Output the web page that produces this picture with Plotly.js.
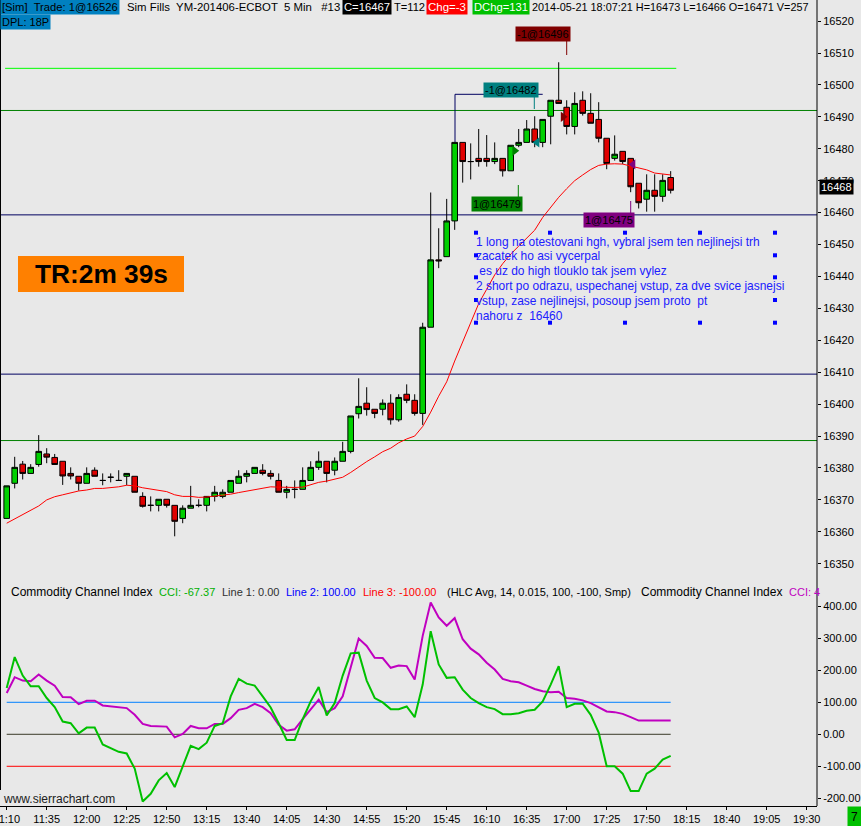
<!DOCTYPE html>
<html>
<head>
<meta charset="utf-8">
<script src="https://cdn.plot.ly/plotly-3.0.1.min.js"></script>
<style>
html,body{margin:0;padding:0;background:#e8e8e8;}
#chart{width:861px;height:826px;}
</style>
</head>
<body>
<div id="chart"></div>
<script>
// ---------- DATA ----------
const opens = [16364.2,16375.2,16381.2,16378.3,16381.1,16384.4,16383.3,16382.1,16378.3,16377.4,
16375.2,16379.3,16376.1,16377.1,16376.1,16377.4,16377.4,16371.1,16368.3,16368.3,
16370.2,16368.3,16364.2,16367.4,16368.3,16368.3,16371.1,16371.1,16372.4,16375.2,
16377.4,16378.3,16379.3,16378.3,16376.1,16372.4,16373.3,16373.3,16376.1,16380.2,
16382.1,16379.3,16382.1,16385.2,16397.0,16400.3,16398.4,16398.4,16400.3,16395.1,
16403.1,16401.2,16397.1,16424.1,16445.2,16446.2,16457.4,16482.0,16476.0,16477.0,
16477.0,16476.0,16477.0,16473.1,16481.1,16482.0,16486.2,16482.0,16490.2,16495.2,
16493.0,16487.0,16495.2,16491.1,16489.2,16483.3,16477.0,16479.2,16477.0,16469.2,
16464.2,16467.0,16465.1,16471.0];
const highs = [16374.4,16383.5,16382.2,16381.2,16390.3,16386.2,16384.4,16382.1,16380.2,16377.4,
16380.2,16380.2,16378.3,16378.3,16379.3,16378.3,16377.4,16372.4,16371.1,16370.2,
16370.2,16368.3,16368.3,16374.4,16370.2,16371.1,16374.4,16373.3,16376.1,16379.3,
16379.3,16380.2,16381.2,16379.3,16378.3,16374.4,16376.1,16380.2,16382.1,16385.2,
16382.1,16383.3,16388.2,16396.3,16408.1,16405.3,16398.4,16401.5,16403.1,16403.1,
16406.2,16403.1,16425.5,16466.3,16455.1,16464.3,16482.0,16482.0,16481.7,16486.2,
16484.3,16482.0,16477.0,16481.1,16486.2,16489.0,16490.2,16489.2,16495.2,16507.1,
16495.2,16497.7,16498.0,16497.4,16494.6,16483.3,16484.2,16479.2,16477.0,16469.2,
16472.0,16472.0,16472.0,16473.0];
const lows = [16364.2,16373.6,16376.4,16378.3,16380.4,16381.5,16381.1,16374.7,16376.4,16372.9,
16375.2,16377.4,16374.6,16375.5,16376.1,16374.6,16372.4,16367.6,16366.4,16366.4,
16367.6,16358.6,16362.7,16367.4,16367.7,16366.4,16369.5,16370.5,16372.4,16375.2,
16375.5,16378.3,16377.7,16376.4,16372.4,16370.5,16370.5,16373.3,16376.1,16379.4,
16375.5,16377.7,16382.1,16384.6,16395.5,16396.4,16395.6,16396.5,16393.6,16394.5,
16400.3,16396.4,16393.5,16424.1,16442.6,16446.2,16454.6,16469.4,16470.4,16474.4,
16474.4,16475.2,16471.3,16473.1,16480.5,16482.0,16480.5,16480.5,16481.4,16494.2,
16484.5,16484.5,16490.4,16488.0,16482.0,16473.6,16476.3,16475.2,16466.4,16461.3,
16460.3,16460.3,16463.4,16466.0];
const closes = [16374.4,16380.2,16378.3,16380.2,16385.2,16383.4,16381.1,16377.5,16377.5,16375.2,
16378.3,16377.4,16376.1,16377.1,16376.1,16378.3,16372.4,16368.0,16368.3,16370.2,
16368.3,16363.3,16367.4,16368.3,16368.3,16371.1,16372.4,16372.4,16376.1,16377.4,
16378.3,16380.2,16378.3,16377.4,16372.4,16373.3,16373.3,16376.1,16380.2,16382.1,
16378.3,16382.1,16385.2,16396.3,16399.3,16398.3,16397.1,16400.3,16395.1,16402.1,
16401.2,16397.1,16424.1,16445.2,16444.9,16457.4,16482.0,16476.0,16476.0,16476.0,
16476.0,16477.0,16473.1,16481.1,16482.0,16486.2,16482.0,16489.2,16495.2,16494.2,
16487.0,16494.2,16491.1,16488.0,16483.3,16475.4,16478.3,16476.0,16468.1,16463.1,
16467.0,16465.1,16470.1,16467.0];
const movingAvg = [16362.7,16364.0,16365.3,16366.6,16368.1,16370.0,16371.0,16371.6,16372.3,16372.8,
16373.1,16373.6,16373.6,16373.8,16374.1,16374.6,16374.4,16373.8,16373.4,16373.0,
16372.6,16371.6,16371.1,16371.1,16370.8,16370.9,16371.2,16371.4,16371.8,16372.3,
16372.7,16373.2,16373.7,16374.1,16374.0,16373.9,16373.9,16374.0,16374.8,16375.5,
16375.9,16376.4,16377.1,16378.6,16380.4,16382.0,16383.5,16385.1,16386.2,16387.9,
16389.1,16390.0,16393.0,16397.5,16402.5,16407.0,16413.5,16419.5,16426.0,16431.5,
16436.0,16440.5,16444.0,16447.0,16449.5,16452.0,16454.5,16458.5,16461.8,16464.8,
16467.5,16470.0,16471.8,16473.5,16474.8,16475.2,16475.3,16475.2,16474.6,16474.0,
16473.4,16472.4,16472.0,16471.8];
const cciFast = [144.8,241.4,183.6,150,150,113.3,84.9,39.8,34.5,3,
20.9,20.9,-31.7,-44.3,-54.8,-60,-107.3,-210.2,-186,-144,
-120.9,-165,-102,-35.9,-46.4,-26.4,26.1,34.5,118.5,173.1,
158.4,152.1,118.5,83.9,34.5,-18,-18,47.1,102.8,147.9,
58.7,97.5,183.6,252.9,255,167.9,113.3,99.6,78.6,78.6,
87,53.4,155.3,322,218.3,176.3,178.4,139.5,113.3,97.5,
84.9,78.6,62.9,62.9,66,73.4,76.5,102.8,155.3,213,
84.9,95.4,95.4,60.8,5.1,-99.9,-99.9,-123,-177.6,-177.6,
-123,-107.3,-78.9,-67.37];
const cciSlow = [129,178.4,167.9,165.8,186.8,167.9,152.1,116.4,115.4,94.4,
104.9,104.9,90.2,87,84.9,81.8,60.8,32.4,26.1,26.1,
24,-9.6,0.9,26.1,18.8,18.8,32.4,32.4,50.3,76.5,
81.8,95.4,84.9,66,29.3,11.4,15.6,47.1,76.5,108,
69.2,81.8,118.5,213,299.1,276,239.3,238.2,207.8,215.1,
213,171,307.5,412,365.3,339,363.2,297,267.6,249.8,
223.5,202.5,173.1,165.8,162.6,152.1,141.6,134.3,131.1,133.2,
113.3,111.2,105.9,97.5,84.9,71.3,69.2,63.9,53.4,42.9,
42.9,42.9,42.9,42.9];

const timeTickBars = [0,5,10,15,20,25,30,35,40,45,50,55,60,65,70,75,80,85,90,95,100];
const timeTickLabels = ["11:10","11:35","12:00","12:25","12:50","13:15","13:40","14:05","14:30","14:55",
"15:20","15:45","16:10","16:35","17:00","17:25","17:50","18:15","18:40","19:05","19:30"];
const priceTicks = [16350,16360,16370,16380,16390,16400,16410,16420,16430,16440,
16450,16460,16470,16480,16490,16500,16510,16520];
const cciTicks = [-200,-100,0,100,200,300,400];
const cciTickText = ["-200.00","-100.00","0.00","100.00","200.00","300.00","400.00"];
const cciLevels = [100, 0, -100];
const cciLevelColors = ["#0080ff", "#3a3a28", "#ff0000"];
const priceLevels = [16505.2, 16492.0, 16459.3, 16409.4, 16388.6];
const priceLevelColors = ["#00ff00", "#008000", "#000060", "#000060", "#008000"];
const lastPrice = 16468;

const tradeX = [63.5, 66.3, 69.55, 78.3];
const tradeY = [16479.4, 16482.0, 16490.0, 16475.1];
const tradeSymbols = ["triangle-right","triangle-left","triangle-right","triangle-left"];
const tradeColors = ["#008000","#008080","#800000","#800080"];

const noteLines = ["1 long na otestovani hgh, vybral jsem ten nejlinejsi trh",
"zacatek ho asi vycerpal",
" es uz do high tlouklo tak jsem vylez",
"2 short po odrazu, uspechanej vstup, za dve svice jasnejsi",
"vstup, zase nejlinejsi, posoup jsem proto  pt",
"nahoru z  16460"];

// ---------- LAYOUT HELPERS (pixel -> paper, decorations only) ----------
const PW = 817, PH = 806;
const px = x => x / PW;
const py = y => 1 - y / PH;
const FONT = "Liberation Sans, Arial, sans-serif";
const bars = closes.map((_, i) => i);

// fit a font size so a text spans a given pixel width
const cv = document.createElement("canvas").getContext("2d");
function fitSize(text, target, base, bold) {
  cv.font = (bold ? "bold " : "") + base + "px 'Liberation Sans', Arial, sans-serif";
  const w = cv.measureText(text).width;
  if (!w) return base;
  const s = base * target / w;
  return Math.max(base * 0.8, Math.min(base * 1.2, s));
}

const traces = [
  {type:"candlestick", x:bars, open:opens, high:highs, low:lows, close:closes,
   xaxis:"x", yaxis:"y", whiskerwidth:0,
   increasing:{line:{color:"#000000", width:1}, fillcolor:"#00d000"},
   decreasing:{line:{color:"#000000", width:1}, fillcolor:"#e00000"},
   showlegend:false, hoverinfo:"skip"},
  {type:"scatter", mode:"lines", x:bars, y:movingAvg, xaxis:"x", yaxis:"y",
   line:{color:"#ff0000", width:1}, showlegend:false, hoverinfo:"skip"},
  {type:"scatter", mode:"markers", x:tradeX, y:tradeY, xaxis:"x", yaxis:"y",
   marker:{symbol:tradeSymbols, color:tradeColors, size:9}, showlegend:false, hoverinfo:"skip"},
  {type:"scatter", mode:"lines", x:bars, y:cciSlow, xaxis:"x", yaxis:"y2",
   line:{color:"#c000c0", width:2}, showlegend:false, hoverinfo:"skip"},
  {type:"scatter", mode:"lines", x:bars, y:cciFast, xaxis:"x", yaxis:"y2",
   line:{color:"#00c000", width:2}, showlegend:false, hoverinfo:"skip"}
];

const shapes = [];
priceLevels.forEach((lv, k) => {
  const limited = k === 0;
  shapes.push({type:"line", xref: limited ? "x" : "paper", yref:"y",
    x0: limited ? -0.2 : 0, x1: limited ? 83.7 : 1, y0:lv, y1:lv,
    line:{color:priceLevelColors[k], width:1}, layer:"below"});
});
cciLevels.forEach((lv, k) => {
  shapes.push({type:"line", xref:"x", yref:"y2", x0:bars[0], x1:bars[bars.length-1], y0:lv, y1:lv,
    line:{color:cciLevelColors[k], width:1}, layer:"below"});
});
shapes.push({type:"line", xref:"paper", yref:"paper", x0:px(0.5), x1:px(0.5), y0:py(0), y1:py(790), line:{color:"#000", width:1}});
shapes.push({type:"line", xref:"paper", yref:"paper", x0:1, x1:1, y0:py(0), y1:py(806), line:{color:"#000", width:1}});
function seg(x0,y0,x1,y1,c){shapes.push({type:"line", xref:"paper", yref:"paper", x0:px(x0), x1:px(x1), y0:py(y0), y1:py(y1), line:{color:c, width:1}});}
seg(566.7,40,566.7,55,"#800000");
seg(455,94.3,542.7,94.3,"#000060");
seg(455,94.3,455,142,"#000060");
seg(534.3,96,534.3,109,"#008080");
seg(518.3,185,518.3,198,"#008000");
seg(630.7,201,630.7,213,"#800080");
shapes.push({type:"rect", xref:"paper", yref:"paper", x0:px(18), x1:px(184), y0:py(256), y1:py(292), fillcolor:"#ff8000", line:{width:0}});
const handleCols = [476,550,625,700,775];
const handleRows = [232.7,255.3,277.3,300,322.7];
handleRows.forEach((ry, r) => {
  handleCols.forEach((cx, c) => {
    if ((r === 0 || r === handleRows.length-1) || c === 0 || c === handleCols.length-1) {
      shapes.push({type:"rect", xref:"paper", yref:"paper", x0:px(cx-2), x1:px(cx+2), y0:py(ry-2), y1:py(ry+2), fillcolor:"#0000ff", line:{width:0}});
    }
  });
});

const annotations = [];
function ann(text, x, y, opts) {
  annotations.push(Object.assign({text:text, xref:"paper", yref:"paper", x:px(x), y:py(y),
    xanchor:"left", yanchor:"middle", showarrow:false, borderpad:1,
    font:{family:FONT, size:11, color:"#000"}}, opts || {}));
}
// header: [text, left x, target width, background, text colour]
const header = [
  ["[Sim]  Trade: 1@16526", 0, 116, "#0080c0", "#000"],
  ["Sim Fills  YM-201406-ECBOT  5 Min   #13", 125, 214, null, "#000"],
  ["C=16467", 342, 46, "#000000", "#fff"],
  ["T=112", 392, 31, null, "#000"],
  ["Chg=-3", 426, 38, "#ff0000", "#fff"],
  ["DChg=131", 472, 54, "#00c000", "#fff"],
  ["2014-05-21 18:07:21 H=16473 L=16466 O=16471 V=257", 530, 277, null, "#000"]
];
header.forEach(h => {
  const o = {font:{family:FONT, size:fitSize(h[0], h[2], 11), color:h[4]}};
  if (h[3]) o.bgcolor = h[3];
  ann(h[0], h[1], 7, o);
});
ann("DPL: 18P", 0, 22, {bgcolor:"#0080c0"});
ann("-1@16496", 515, 34.5, {bgcolor:"#800000"});
ann("-1@16482", 483, 89.5, {bgcolor:"#008080"});
ann("1@16479", 471, 203.5, {bgcolor:"#008000"});
ann("1@16475", 583, 219.5, {bgcolor:"#800080"});
ann("TR:2m 39s", 101, 274, {xanchor:"center", font:{family:FONT, size:fitSize("TR:2m 39s", 133, 26, true), color:"#000", weight:"bold"}});
const noteSize = fitSize(noteLines[0], 284, 12);
noteLines.forEach((ln, k) => ann(ln, 475, 241.5 + 14.9 * k, {borderpad:0, font:{family:FONT, size:noteSize, color:"#2020ff"}}));
const cciTitle = [["Commodity Channel Index",9,"#000",12],["CCI: -67.37",157,"#00b000",11],["Line 1: 0.00",220,"#303030",11],
  ["Line 2: 100.00",284,"#0000ff",11],["Line 3: -100.00",361,"#ff0000",11],["(HLC Avg, 14, 0.015, 100, -100, Smp)",445,"#000",11],
  ["Commodity Channel Index",639,"#000",12],["CCI: 4",787,"#c000c0",11]];
cciTitle.forEach(s => ann(s[0], s[1], 592, {font:{family:FONT, size:s[3], color:s[2]}}));
ann("www.sierrachart.com", 1, 799, {font:{family:FONT, size:12, color:"#202020"}});
annotations.push({text:String(lastPrice), xref:"paper", yref:"y", x:px(819), y:lastPrice,
  xanchor:"left", yanchor:"middle", showarrow:false, bgcolor:"#000", borderpad:1,
  font:{family:FONT, size:11, color:"#fff"}});
ann("7", 854, 817, {xanchor:"center", bgcolor:"#00c000", borderpad:3, font:{family:FONT, size:12, color:"#000"}});

const axFont = {family:FONT, size:11, color:"#000"};
const layout = {
  width:861, height:826,
  margin:{l:0, r:44, t:0, b:20, pad:0},
  paper_bgcolor:"#e8e8e8", plot_bgcolor:"#e8e8e8",
  showlegend:false, hovermode:false,
  boxgap:0.3, boxgroupgap:0,
  xaxis:{range:[-0.8375, 101.29], anchor:"y2", tickmode:"array", tickvals:timeTickBars, ticktext:timeTickLabels,
    ticks:"outside", ticklen:3, tickcolor:"#000", showline:true, linecolor:"#000", linewidth:1,
    ticklabeloverflow:"allow",
    showgrid:false, zeroline:false, rangeslider:{visible:false}, tickfont:axFont, fixedrange:true},
  yaxis:{domain:[0.2804, 1], range:[16344.91, 16526.61], side:"right", anchor:"x",
    tickmode:"array", tickvals:priceTicks, tickformat:"d", ticks:"outside", ticklen:3, tickcolor:"#000",
    showline:false, showgrid:false, zeroline:false, tickfont:axFont, fixedrange:true},
  yaxis2:{domain:[0, 0.27792], range:[-224.1, 475.9], side:"right", anchor:"x",
    tickmode:"array", tickvals:cciTicks, ticktext:cciTickText, ticks:"outside", ticklen:3, tickcolor:"#000",
    showline:false, showgrid:false, zeroline:false, tickfont:axFont, fixedrange:true},
  shapes:shapes, annotations:annotations
};
Plotly.newPlot("chart", traces, layout, {staticPlot:true, displayModeBar:false});
</script>
</body>
</html>
